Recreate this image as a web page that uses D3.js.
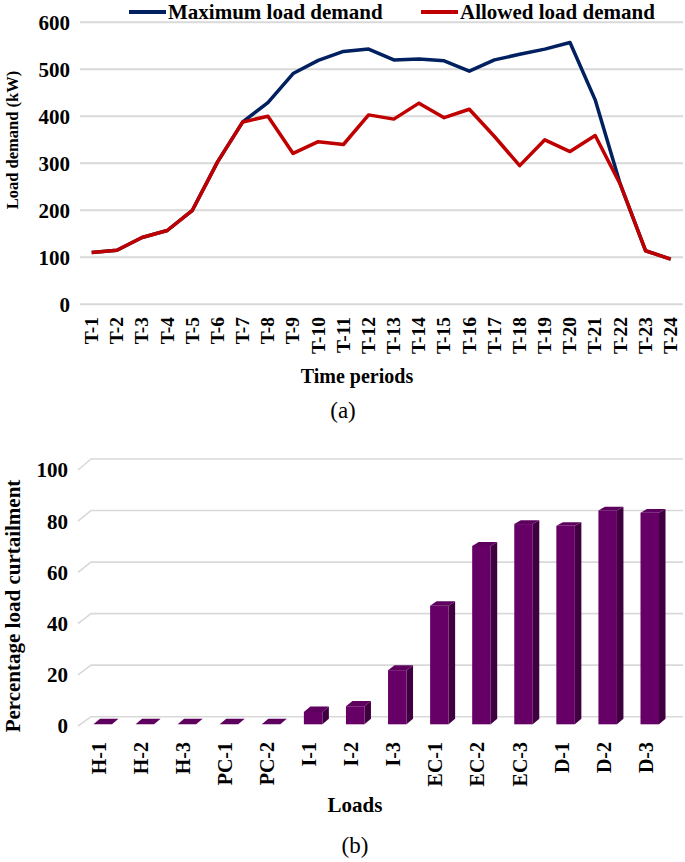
<!DOCTYPE html>
<html>
<head>
<meta charset="utf-8">
<script src="https://cdn.jsdelivr.net/npm/d3@7"></script>
<style>
  html, body { margin: 0; padding: 0; background: #fff; }
  svg { display: block; }
  text { font-family: "Liberation Serif", "Times New Roman", serif; fill: #000; }
</style>
</head>
<body>
<svg id="chart" width="685" height="862"></svg>
<script>
// ---------- Data: chart (a) ----------
const periods = ["T-1","T-2","T-3","T-4","T-5","T-6","T-7","T-8","T-9","T-10","T-11","T-12",
                 "T-13","T-14","T-15","T-16","T-17","T-18","T-19","T-20","T-21","T-22","T-23","T-24"];
const maxLoad = [110,115,142,157,200,303,388,429,491,519,538,543,520,522,518,496,520,532,543,557,435,255,114,96];
const allowedLoad = [110,115,142,157,200,303,388,400,321,346,340,403,394,428,397,415,357,295,350,325,359,255,114,96];
const loadTicks = [0,100,200,300,400,500,600];
const seriesNames = ["Maximum load demand", "Allowed load demand"];

// ---------- Data: chart (b) ----------
const loads = ["H-1","H-2","H-3","PC-1","PC-2","I-1","I-2","I-3","EC-1","EC-2","EC-3","D-1","D-2","D-3"];
const curtailment = [0,0,0,0,0,4.8,7,21,46,69.2,77.7,77,83,82.1];
const pctTicks = [0,20,40,60,80,100];

const svg = d3.select("#chart");
const NAVY = "#002060", RED = "#c00000", GRID = "#d9d9d9";

// ================= Chart (a) =================
const ga = svg.append("g");
const xa = d3.scalePoint().domain(periods).range([91.7, 670.7]);
const ya = d3.scaleLinear().domain([0, 600]).range([304.3, 22.3]);

ga.selectAll("line.grid").data(loadTicks).join("line")
  .attr("x1", 80).attr("x2", 683)
  .attr("y1", d => ya(d)).attr("y2", d => ya(d))
  .attr("stroke", GRID).attr("stroke-width", 2);

ga.selectAll("text.ytick").data(loadTicks).join("text")
  .attr("x", 70).attr("y", d => ya(d)).attr("dy", "0.35em")
  .attr("text-anchor", "end").attr("font-size", 21).attr("font-weight", "bold")
  .text(d => d);

ga.selectAll("text.xtick").data(periods).join("text")
  .attr("transform", d => `translate(${xa(d)},317) scale(1,1.08) rotate(-90)`)
  .attr("dy", "0.35em").attr("text-anchor", "end")
  .attr("font-size", 18).attr("font-weight", "bold")
  .text(d => d);

const line = d3.line().x((d, i) => xa(periods[i])).y(d => ya(d));
ga.append("path").datum(maxLoad).attr("d", line)
  .attr("fill", "none").attr("stroke", NAVY).attr("stroke-width", 3.5).attr("stroke-linejoin", "round");
ga.append("path").datum(allowedLoad).attr("d", line)
  .attr("fill", "none").attr("stroke", RED).attr("stroke-width", 3.5).attr("stroke-linejoin", "round");

// legend
const legendItems = [
  {name: seriesNames[0], color: NAVY, x: 129},
  {name: seriesNames[1], color: RED, x: 421}
];
legendItems.forEach(it => {
  ga.append("line").attr("x1", it.x).attr("x2", it.x + 37).attr("y1", 12).attr("y2", 12)
    .attr("stroke", it.color).attr("stroke-width", 4);
  ga.append("text").attr("x", it.x + 39).attr("y", 12).attr("dy", "0.35em")
    .attr("font-size", 21).attr("font-weight", "bold").text(it.name);
});

ga.append("text").attr("transform", "translate(18,140) rotate(-90)")
  .attr("text-anchor", "middle").attr("font-size", 16.5).attr("font-weight", "bold")
  .text("Load demand (kW)");
ga.append("text").attr("x", 357).attr("y", 383).attr("text-anchor", "middle")
  .attr("font-size", 20).attr("font-weight", "bold").text("Time periods");
ga.append("text").attr("x", 343).attr("y", 418).attr("text-anchor", "middle")
  .attr("font-size", 23).text("(a)");

// ================= Chart (b) =================
const gb = svg.append("g");
const xb = d3.scaleBand().domain(loads).range([81.7, 670.8]).paddingInner(0.56).paddingOuter(0.28);
const yBack = d3.scaleLinear().domain([0, 100]).range([716.7, 459]);
const yFront = d3.scaleLinear().domain([0, 100]).range([726, 470]);
const yBar = d3.scaleLinear().domain([0, 100]).range([724.3, 466.6]);

gb.selectAll("polyline.grid").data(pctTicks).join("polyline")
  .attr("points", d => `78,${yFront(d)} 91,${yBack(d)} 683,${yBack(d)}`)
  .attr("fill", "none").attr("stroke", GRID).attr("stroke-width", 1.6);

gb.selectAll("text.ytick").data(pctTicks).join("text")
  .attr("x", 68).attr("y", d => yFront(d)).attr("dy", "0.35em")
  .attr("text-anchor", "end").attr("font-size", 21).attr("font-weight", "bold")
  .text(d => d);

const bw = xb.bandwidth();
const depthX = 6.5;
const depthY = v => 5.5 - 0.023 * v;
const bars = gb.selectAll("g.bar").data(curtailment.map((v, i) => ({v, name: loads[i]}))).join("g");
bars.append("polygon")  // side
  .attr("points", d => {
    const x0 = xb(d.name) + bw, yt = yBar(d.v), yb = yBar(0), dy = depthY(d.v), dy0 = depthY(0);
    return `${x0},${yt} ${x0 + depthX},${yt - dy} ${x0 + depthX},${yb - dy0} ${x0},${yb}`;
  })
  .attr("fill", "#3f003f");
bars.append("rect")  // front
  .attr("x", d => xb(d.name)).attr("y", d => yBar(d.v))
  .attr("width", bw).attr("height", d => yBar(0) - yBar(d.v))
  .attr("fill", "#660066");
bars.append("polygon")  // top
  .attr("points", d => {
    const x0 = xb(d.name), yt = yBar(d.v), dy = depthY(d.v);
    return `${x0},${yt} ${x0 + depthX},${yt - dy} ${x0 + bw + depthX},${yt - dy} ${x0 + bw},${yt}`;
  })
  .attr("fill", "#5e005e");

gb.selectAll("text.xtick").data(loads).join("text")
  .attr("transform", d => `translate(${xb(d) + bw / 2 - 4},742) rotate(-90)`)
  .attr("dy", "0.35em").attr("text-anchor", "end")
  .attr("font-size", 20).attr("font-weight", "bold")
  .text(d => d);

gb.append("text").attr("transform", "translate(20,606) rotate(-90)")
  .attr("text-anchor", "middle").attr("font-size", 21).attr("font-weight", "bold")
  .text("Percentage load curtailment");
gb.append("text").attr("x", 355).attr("y", 812).attr("text-anchor", "middle")
  .attr("font-size", 21).attr("font-weight", "bold").text("Loads");
gb.append("text").attr("x", 355).attr("y", 853).attr("text-anchor", "middle")
  .attr("font-size", 23).text("(b)");
</script>
</body>
</html>
